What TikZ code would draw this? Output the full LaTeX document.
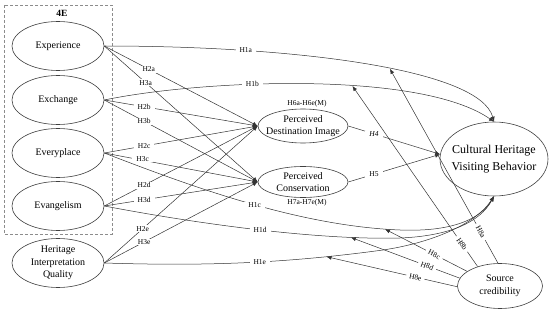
\documentclass[tikz,border=0pt]{standalone}
\usepackage{fontspec}
\setmainfont{Liberation Serif}
\usetikzlibrary{shapes.geometric,arrows.meta}
\begin{document}
\begin{tikzpicture}[x=1pt,y=-1pt,
  ell/.style={ellipse, draw=black!75, line width=0.6pt, inner sep=0pt},
  lefte/.style={ell, minimum width=92pt, minimum height=49pt},
  txt/.style={align=center, inner sep=0pt, font=\fontsize{10}{12.5}\selectfont},
  bigtxt/.style={align=center, inner sep=0pt, font=\fontsize{12}{17}\selectfont},
  ln/.style={draw=black!80, line width=0.5pt},
  arr/.style={ln, -{Latex[length=5pt,width=4pt]}},
  hl/.style={fill=white, inner xsep=4pt, inner ysep=0.8pt, font=\fontsize{7.5}{9}\selectfont},
  sl/.style={hl, sloped, inner xsep=3pt, inner ysep=0.5pt},
  ml/.style={inner sep=0pt, font=\fontsize{7.5}{9}\selectfont},
]
\useasboundingbox (0,0) rectangle (550,310);
% dashed group box
\draw[draw=black!45, line width=0.8pt, dash pattern=on 3pt off 2pt] (4,5) rectangle (112,234);
\node[font=\bfseries\fontsize{9.5}{11}\selectfont] (fourE) at (62,13) {4E};
% left ellipses
\node[lefte] (exp) at (58,46) {};
\node[txt] (expt) at (exp) {Experience};
\node[lefte] (exc) at (58,100) {};
\node[txt] (exct) at (exc) {Exchange};
\node[lefte] (evp) at (58,153) {};
\node[txt] (evpt) at (evp) {Everyplace};
\node[lefte] (evg) at (58,206) {};
\node[txt] (evgt) at (evg) {Evangelism};
\node[lefte] (hiq) at (58,263) {};
\node[txt] (hiqt) at (hiq) {Heritage\\Interpretation\\Quality};
% mediators
\node[ell, minimum width=90pt, minimum height=34pt] (pdi) at (303,126) {};
\node[txt] (pdit) at (pdi) {Perceived\\Destination Image};
\node[ell, minimum width=90pt, minimum height=31pt] (pc) at (303,182) {};
\node[txt] (pct) at (pc) {Perceived\\Conservation};
\node[ml] (h6) at (307,104) {H6a-H6e(M)};
\node[ml] (h7) at (307,203) {H7a-H7e(M)};
% outcome
\node[ell, minimum width=108pt, minimum height=74pt] (chvb) at (494,159) {};
\node[bigtxt] (chvbt) at (chvb) {Cultural Heritage\\Visiting Behavior};
% moderator
\node[ell, minimum width=85pt, minimum height=45pt] (sc) at (500,286) {};
\node[txt] (sct) at (sc) {Source\\credibility};

% H1 curves
\draw[arr] (exp.east) .. controls (300,46) and (480,70) .. (chvb.north)
  node[hl,pos=0.25]{H1a} coordinate[pos=0.555] (t1a);
\draw[arr] (exc.east) .. controls (200,80) and (420,70) .. (chvb.north)
  node[hl,pos=0.38]{H1b} coordinate[pos=0.6] (t1b);
\draw[arr] (evp.east) .. controls (195,188) and (300,226) .. (400,230)
  node[hl,pos=0.52]{H1c} coordinate[pos=0.95] (t1c)
  .. controls (450,232) and (480,220) .. (chvb.south);
\draw[arr] (evg.east) .. controls (220,228) and (330,240) .. (400,238)
  node[hl,pos=0.47]{H1d} coordinate[pos=0.79] (t1d)
  .. controls (450,236) and (480,222) .. (chvb.south);
\draw[arr] (hiq.east) .. controls (200,266) and (280,264) .. (383,250)
  node[hl,pos=0.57]{H1e} coordinate[pos=0.81] (t1e)
  .. controls (430,243) and (475,225) .. (chvb.south);

% H2 / H3
\draw[arr] (exp.east) -- (pdi.west) node[hl,pos=0.29]{H2a};
\draw[arr] (exp.east) -- (pc.west) node[hl,pos=0.27]{H3a};
\draw[arr] (exc.east) -- (pdi.west) node[hl,pos=0.26]{H2b};
\draw[arr] (exc.east) -- (pc.west) node[hl,pos=0.26]{H3b};
\draw[arr] (evp.east) -- (pdi.west) node[hl,pos=0.26]{H2c};
\draw[arr] (evp.east) -- (pc.west) node[hl,pos=0.25,yshift=1.5pt]{H3c};
\draw[arr] (evg.east) -- (pdi.west) node[hl,pos=0.26]{H2d};
\draw[arr] (evg.east) -- (pc.west) node[hl,pos=0.26]{H3d};
\draw[arr] (hiq.east) -- (pdi.west) node[hl,pos=0.25]{H2e};
\draw[arr] (hiq.east) -- (pc.west) node[hl,pos=0.26]{H3e};

% H4 / H5
\draw[arr] (pdi.east) -- (chvb.175) node[hl,pos=0.28,font=\itshape\fontsize{7.5}{9}\selectfont]{H4};
\draw[arr] (pc.east) -- (chvb.175) node[hl,pos=0.28]{H5};

% H8 moderation
\draw[arr] (sc.95) -- (t1a) node[sl,pos=0.16]{H8a};
\draw[arr] (sc.139) -- (t1b) node[sl,pos=0.125]{H8b};
\draw[arr] (sc.156) -- (t1c) node[sl,pos=0.4]{H8c};
\draw[arr] (sc.169) -- (t1d) node[sl,pos=0.3]{H8d};
\draw[arr] (sc.181) -- (t1e) node[sl,pos=0.32]{H8e};
\end{tikzpicture}
\end{document}
